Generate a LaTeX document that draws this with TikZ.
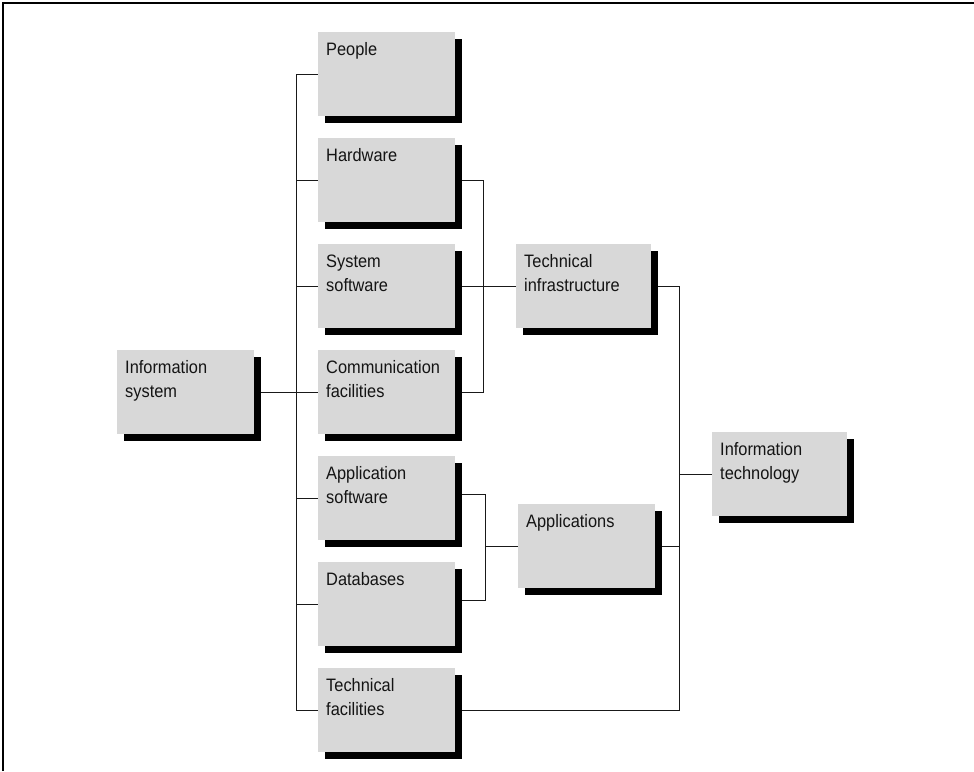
\documentclass[tikz,border=0pt]{standalone}
\usepackage{fontspec}
\setmainfont[FakeStretch=0.91]{Liberation Sans}
\usetikzlibrary{shadows,backgrounds}
\definecolor{boxgray}{HTML}{D8D8D8}
\definecolor{ink}{HTML}{141414}
\begin{document}
\begin{tikzpicture}[x=1pt,y=-1pt,
  box/.style={fill=boxgray, draw=none, minimum width=137pt, minimum height=84pt,
    inner sep=0pt, outer sep=0pt, anchor=north west,
    drop shadow={shadow xshift=7pt, shadow yshift=-7pt, fill=black, opacity=1}},
  narrowbox/.style={box, minimum width=135pt},
  lbl/.style={anchor=north west, align=left, inner sep=0pt, text=ink,
    font=\fontsize{18}{24}\selectfont},
  link/.style={draw=black!90, line width=1pt}]
\useasboundingbox (0,0) rectangle (974,771);

% frame along the top and left edges
\draw[line width=2pt] (3,771) -- (3,3) -- (974,3);

% boxes
\node[box] (infosys) at (117,350) {};
\node[box] (people)  at (318,32) {};
\node[box] (hw)      at (318,138) {};
\node[box] (syssw)   at (318,244) {};
\node[box] (comm)    at (318,350) {};
\node[box] (appsw)   at (318,456) {};
\node[box] (db)      at (318,562) {};
\node[box] (techfac) at (318,668) {};
\node[narrowbox] (techinfra) at (516,244) {};
\node[box] (apps)    at (518,504) {};
\node[narrowbox] (infotech) at (712,432) {};

% labels: first baseline 23pt below the top edge of the box
\newcommand{\boxlabel}[2]{\node[lbl] (#1-t) at ([xshift=8pt,yshift=-9pt]#1.north west) {\rule{0pt}{14pt}#2};}
\boxlabel{infosys}{Information\\system}
\boxlabel{people}{People}
\boxlabel{hw}{Hardware}
\boxlabel{syssw}{System\\software}
\boxlabel{comm}{Communication\\facilities}
\boxlabel{appsw}{Application\\software}
\boxlabel{db}{Databases}
\boxlabel{techfac}{Technical\\facilities}
\boxlabel{techinfra}{Technical\\infrastructure}
\boxlabel{apps}{Applications}
\boxlabel{infotech}{Information\\technology}

% bus positions
\coordinate (busL)  at (296,0);
\coordinate (busTI) at (483,0);
\coordinate (busAP) at (485,0);
\coordinate (busIT) at (679,0);

\begin{scope}[on background layer]
  % information system to its components
  \draw[link] (people.west) -- (people.west -| busL) -- (techfac.west -| busL) -- (techfac.west);
  \draw[link] (hw.west -| busL) -- (hw.west);
  \draw[link] (syssw.west -| busL) -- (syssw.west);
  \draw[link] (infosys.east) -- (infosys.east -| comm.west);
  \draw[link] (appsw.west -| busL) -- (appsw.west);
  \draw[link] (db.west -| busL) -- (db.west);
  % technical infrastructure
  \draw[link] (hw.east) -- (hw.east -| busTI) -- (comm.east -| busTI) -- (comm.east);
  \draw[link] (syssw.east) -- (syssw.east -| techinfra.west);
  % applications
  \draw[link] ([yshift=4pt]appsw.east) -- ([yshift=4pt]appsw.east -| busAP)
    -- ([yshift=4pt]db.east -| busAP) -- ([yshift=4pt]db.east);
  \draw[link] (apps.west -| busAP) -- (apps.west);
  % information technology
  \draw[link] (techinfra.east) -- (techinfra.east -| busIT) -- (techfac.east -| busIT) -- (techfac.east);
  \draw[link] (apps.east) -- (apps.east -| busIT);
  \draw[link] (infotech.west -| busIT) -- (infotech.west);
\end{scope}
\end{tikzpicture}
\end{document}
